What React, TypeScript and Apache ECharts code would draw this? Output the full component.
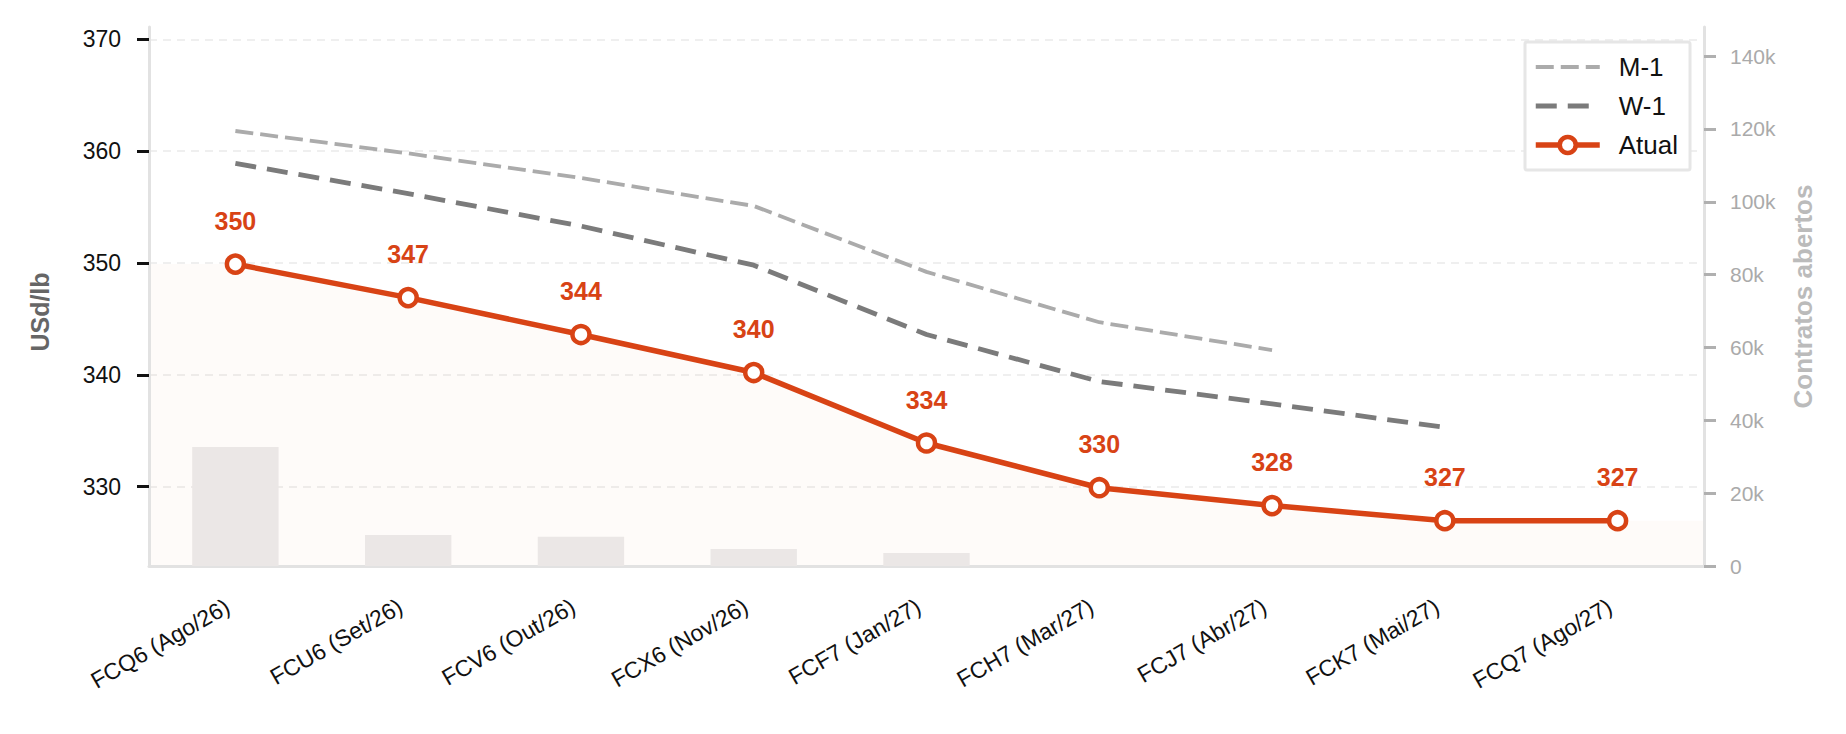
import React, { useEffect, useRef } from "react";
import * as echarts from "echarts";

// Coffee futures curve (ICE "C" contracts) with open interest per contract
const contracts = [
  "FCQ6 (Ago/26)",
  "FCU6 (Set/26)",
  "FCV6 (Out/26)",
  "FCX6 (Nov/26)",
  "FCF7 (Jan/27)",
  "FCH7 (Mar/27)",
  "FCJ7 (Abr/27)",
  "FCK7 (Mai/27)",
  "FCQ7 (Ago/27)",
];
const atual = [349.9, 346.9, 343.6, 340.2, 333.9, 329.9, 328.3, 326.95, 326.95];
const semanaAnterior = [358.9, 356.2, 353.3, 349.8, 343.6, 339.4, 337.4, 335.3, null];
const mesAnterior = [361.8, 359.8, 357.6, 355.1, 349.2, 344.7, 342.2, null, null];
const contratosAbertos = [32700, 8500, 8000, 4700, 3600, 0, 0, 0, 0];

const priceTicks = [330, 340, 350, 360, 370];
const oiTicks = [0, 20000, 40000, 60000, 80000, 100000, 120000, 140000];

const FONT = "'Liberation Sans', Arial, Helvetica, sans-serif";
const ORANGE = "#d84315";
const M1_COLOR = "#ababab";
const W1_COLOR = "#7b7b7b";

const m1Line = { color: M1_COLOR, width: 3.8, type: [18, 7] };
const w1Line = { color: W1_COLOR, width: 4.8, type: [21, 11] };
const atualLine = { color: ORANGE, width: 5.5 };
const atualMarker = { color: "#ffffff", borderColor: ORANGE, borderWidth: 4.5 };

export default function App() {
  const ref = useRef<HTMLDivElement>(null);

  useEffect(() => {
    if (!ref.current) return;
    const chart = echarts.init(ref.current, undefined, { renderer: "svg" });

    // shaded band under the current curve, stretched to both plot edges
    const last = atual.length - 1;
    const band = [
      [-0.5, atual[0]],
      ...atual.map((v, i) => [i, v]),
      [last + 0.5, atual[last]],
    ];

    chart.setOption({
      animation: false,
      textStyle: { fontFamily: FONT },
      grid: { left: 149, right: 142, top: 27, bottom: 168 },
      legend: {
        orient: "vertical",
        left: 1525,
        top: 42,
        data: [
          { name: "M-1", itemStyle: { opacity: 0 }, lineStyle: { ...m1Line } },
          { name: "W-1", itemStyle: { opacity: 0 }, lineStyle: { ...w1Line } },
          { name: "Atual", itemStyle: { ...atualMarker }, lineStyle: { ...atualLine } },
        ],
        itemWidth: 64,
        itemHeight: 20,
        itemGap: 13,
        padding: [12, 12, 12, 8],
        backgroundColor: "#ffffff",
        borderColor: "#e6e6e6",
        borderWidth: 3,
        borderRadius: 2,
        textStyle: { fontSize: 26, color: "#111", fontFamily: FONT, padding: [0, 0, 0, 14] },
      },
      xAxis: [
        {
          type: "category",
          data: contracts,
          boundaryGap: true,
          axisLine: { lineStyle: { color: "#e2e2e2", width: 3 } },
          axisTick: { alignWithLabel: true, length: 12, lineStyle: { color: "#111", width: 3 } },
          axisLabel: {
            rotate: 30,
            margin: 34,
            fontSize: 23,
            color: "#111",
            fontFamily: FONT,
            padding: [0, 9, 0, 0],
          },
          splitLine: { show: false },
        },
        { type: "value", min: -0.5, max: last + 0.5, show: false },
      ],
      yAxis: [
        {
          type: "value",
          position: "left",
          min: 322.9,
          max: 371.1,
          axisLine: { show: true, onZero: false, lineStyle: { color: "#e2e2e2", width: 3 } },
          axisTick: {
            show: true,
            length: 12,
            customValues: priceTicks,
            lineStyle: { color: "#111", width: 3 },
          },
          axisLabel: { customValues: priceTicks, fontSize: 23, color: "#111", margin: 28, fontFamily: FONT },
          splitLine: { show: true, lineStyle: { color: "#efefef", width: 2, type: [8, 6] } },
        },
        {
          type: "value",
          position: "right",
          min: 0,
          max: 148000,
          name: "Contratos abertos",
          nameLocation: "middle",
          nameGap: 86,
          nameTextStyle: { color: "#bbbbbb", fontWeight: "bold", fontSize: 26, fontFamily: FONT },
          axisLine: { show: true, onZero: false, lineStyle: { color: "#e2e2e2", width: 3 } },
          axisTick: {
            show: true,
            length: 12,
            customValues: oiTicks,
            lineStyle: { color: "#b0b0b0", width: 3 },
          },
          axisLabel: {
            customValues: oiTicks,
            fontSize: 21,
            color: "#aaaaaa",
            margin: 26,
            fontFamily: FONT,
            formatter: (v: number) => (v === 0 ? "0" : `${Math.round(v / 1000)}k`),
          },
          splitLine: { show: false },
        },
      ],
      graphic: [
        {
          type: "text",
          x: 40,
          y: 312,
          rotation: Math.PI / 2,
          style: {
            text: "USd/lb",
            fill: "#666666",
            font: `bold 25px ${FONT}`,
            align: "center",
            verticalAlign: "middle",
          },
        },
      ],
      series: [
        {
          type: "line",
          xAxisIndex: 1,
          yAxisIndex: 0,
          data: band,
          symbol: "none",
          silent: true,
          lineStyle: { width: 0 },
          areaStyle: { color: "rgba(216,67,21,0.035)", origin: "start" },
          z: 0,
        },
        {
          name: "Contratos abertos",
          type: "bar",
          xAxisIndex: 0,
          yAxisIndex: 1,
          data: contratosAbertos,
          barWidth: "50%",
          silent: true,
          itemStyle: { color: "#ebe7e6" },
          z: 1,
        },
        {
          name: "M-1",
          type: "line",
          xAxisIndex: 0,
          yAxisIndex: 0,
          data: mesAnterior,
          symbol: "none",
          itemStyle: { color: M1_COLOR },
          lineStyle: m1Line,
          z: 3,
        },
        {
          name: "W-1",
          type: "line",
          xAxisIndex: 0,
          yAxisIndex: 0,
          data: semanaAnterior,
          symbol: "none",
          itemStyle: { color: W1_COLOR },
          lineStyle: w1Line,
          z: 3,
        },
        {
          name: "Atual",
          type: "line",
          xAxisIndex: 0,
          yAxisIndex: 0,
          data: atual,
          symbol: "circle",
          symbolSize: 17,
          lineStyle: atualLine,
          itemStyle: atualMarker,
          label: {
            show: true,
            position: "top",
            distance: 20,
            color: ORANGE,
            fontWeight: "bold",
            fontSize: 25,
            fontFamily: FONT,
            formatter: (p: any) => `${Math.round(p.value)}`,
          },
          z: 5,
        },
      ],
    });

    return () => chart.dispose();
  }, []);

  return (
    <div
      ref={ref}
      style={{ position: "fixed", left: 0, top: 0, width: 1846, height: 734, background: "#fff" }}
    />
  );
}
